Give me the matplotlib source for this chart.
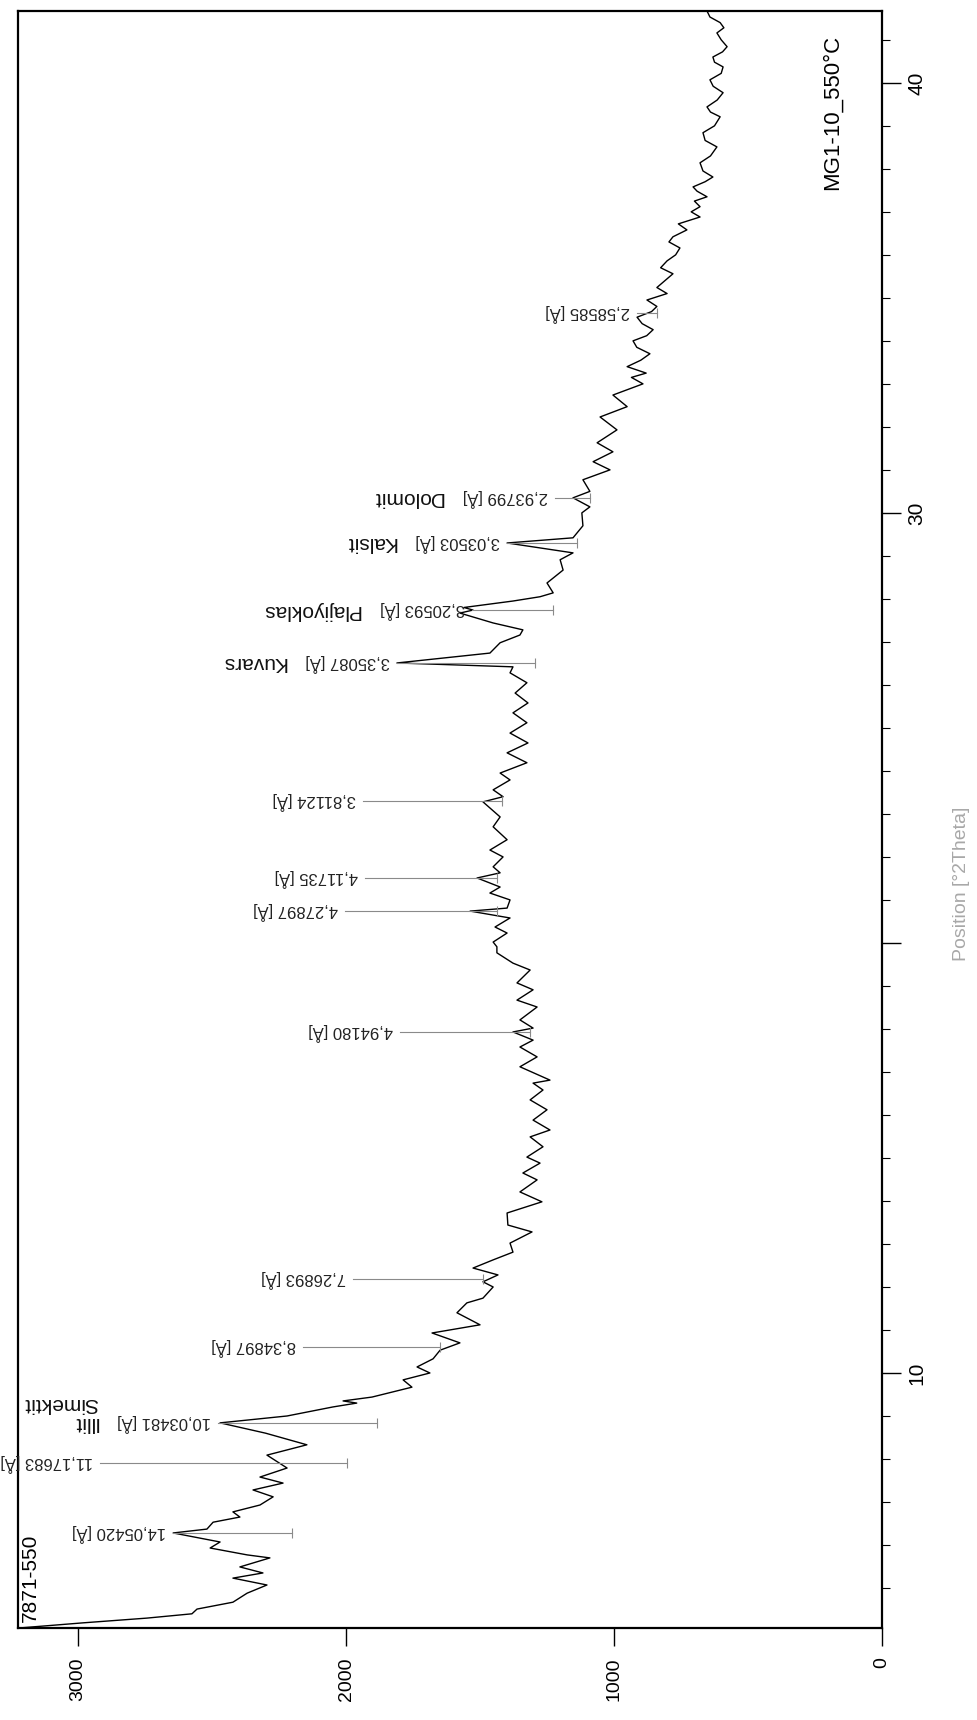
import matplotlib
matplotlib.use("Agg")
import matplotlib.pyplot as plt
from matplotlib.ticker import MultipleLocator

plt.rcParams['font.family'] = ['Liberation Sans', 'DejaVu Sans']

# scan: position [°2Theta] and counts
two_theta = [4.07, 4.19, 4.30, 4.40, 4.51, 4.67, 4.88, 5.07, 5.23, 5.35, 5.49, 5.70, 5.77, 5.93,
             6.07, 6.28, 6.37, 6.53, 6.65, 6.77, 6.93, 7.12, 7.28, 7.44, 7.58, 7.79, 7.91, 8.09,
             8.33, 8.60, 8.84, 9.00, 9.21, 9.30, 9.35, 9.44, 9.60, 9.67, 9.84, 10.00, 10.14, 10.33,
             10.53, 10.70, 10.93, 11.12, 11.40, 11.63, 11.74, 12.00, 12.12, 12.28, 12.44, 12.63,
             12.81, 13.02, 13.28, 13.44, 13.72, 13.98, 14.21, 14.49, 14.65, 14.88, 15.02, 15.26,
             15.49, 15.65, 15.88, 16.12, 16.35, 16.58, 16.74, 16.81, 17.12, 17.35, 17.58, 17.74,
             17.93, 18.02, 18.21, 18.51, 18.67, 18.91, 19.07, 19.37, 19.53, 19.77, 19.91, 20.02,
             20.23, 20.37, 20.58, 20.74, 20.81, 21.00, 21.16, 21.30, 21.51, 21.63, 21.77, 22.00,
             22.16, 22.40, 22.70, 22.93, 23.28, 23.40, 23.56, 23.79, 23.95, 24.19, 24.42, 24.65,
             24.88, 25.12, 25.35, 25.58, 25.81, 26.05, 26.28, 26.42, 26.51, 26.74, 26.98, 27.16,
             27.28, 27.44, 27.67, 27.74, 27.80, 27.95, 28.05, 28.14, 28.37, 28.67, 28.91, 29.07,
             29.30, 29.42, 29.70, 30.00, 30.14, 30.35, 30.50, 30.77, 31.00, 31.19, 31.42, 31.63,
             31.93, 32.23, 32.47, 32.74, 33.00, 33.15, 33.25, 33.40, 33.55, 33.70, 33.85, 34.00,
             34.12, 34.26, 34.40, 34.55, 34.68, 34.80, 34.95, 35.10, 35.24, 35.40, 35.56, 35.70,
             35.86, 36.00, 36.16, 36.30, 36.42, 36.58, 36.72, 36.88, 37.00, 37.12, 37.25, 37.35,
             37.48, 37.58, 37.70, 37.81, 37.95, 38.14, 38.30, 38.51, 38.66, 38.84, 39.00, 39.21,
             39.32, 39.44, 39.60, 39.77, 39.92, 40.07, 40.22, 40.37, 40.48, 40.60, 40.72, 40.84,
             41.00, 41.16, 41.28, 41.40, 41.53, 41.67]
counts = [3220, 2981, 2743, 2575, 2556, 2422, 2369, 2295, 2422, 2310, 2396, 2284, 2369, 2507,
          2470, 2645, 2519, 2496, 2396, 2422, 2321, 2272, 2347, 2235, 2321, 2220, 2250, 2295,
          2146, 2300, 2470, 2220, 2049, 1960, 2011, 1903, 1799, 1754, 1787, 1687, 1735, 1675,
          1649, 1575, 1679, 1500, 1586, 1549, 1489, 1451, 1489, 1433, 1526, 1451,
          1377, 1388, 1306, 1396, 1399, 1269, 1351, 1287, 1340, 1276, 1325, 1265,
          1313, 1239, 1302, 1250, 1313, 1265, 1302, 1239, 1351, 1287, 1351, 1302,
          1377, 1302, 1351, 1287, 1362, 1302, 1362, 1313, 1377, 1437, 1437, 1451,
          1399, 1444, 1388, 1537, 1399, 1388, 1463, 1425, 1511, 1425, 1451, 1414,
          1463, 1399, 1451, 1425, 1489, 1414, 1451, 1388, 1425, 1325, 1399, 1321,
          1388, 1325, 1377, 1321, 1369, 1325, 1388, 1377, 1810, 1463, 1425, 1351,
          1340, 1451, 1575, 1526, 1560, 1377, 1276, 1227, 1250, 1190, 1201, 1153,
          1399, 1153, 1116, 1120, 1090, 1153, 1090, 1116, 1015, 1078, 1004, 1063,
          989, 1052, 951, 1004, 892, 935, 880, 951, 900, 866, 915, 929,
          878, 854, 895, 914, 860, 840, 877, 802, 840, 810, 780, 826,
          802, 770, 754, 795, 780, 728, 760, 679, 712, 679, 700, 653,
          690, 705, 660, 631, 668, 679, 640, 616, 660, 668, 625, 604,
          640, 653, 615, 593, 630, 642, 600, 593, 625, 631, 595, 578,
          600, 616, 590, 604, 642, 653]

# identified peaks: label, position, top and foot of the marker line (counts)
peak_labels = ["14,05420 [Å]", "11,17683 [Å]", "10,03481 [Å]", "8,34897 [Å]", "7,26893 [Å]",
               "4,94180 [Å]", "4,27897 [Å]", "4,11735 [Å]", "3,81124 [Å]", "3,35087 [Å]",
               "3,20593 [Å]", "3,03503 [Å]", "2,93799 [Å]", "2,58585 [Å]"]
peak_pos = [6.28, 7.91, 8.84, 10.60, 12.19, 17.93, 20.74, 21.51, 23.30, 26.51, 27.74, 29.30,
            30.35, 34.65]
peak_top = [2645, 2918, 2478, 2160, 1974, 1799, 2004, 1929, 1937, 1810, 1530, 1399, 1220, 914]
peak_base = [2201, 1996, 1884, 1649, 1489, 1313, 1437, 1437, 1418, 1295, 1228, 1138, 1090, 840]

# phase names written next to some peaks
phase_names = {2: ["Illit", "Simektit"], 9: ["Kuvars"], 10: ["Plajiyoklas"],
               11: ["Kalsit"], 12: ["Dolomit"]}

fig = plt.figure(figsize=(9.77, 17.2), dpi=100)
ax = fig.add_axes([18 / 977, 92 / 1720, 864 / 977, 1617 / 1720])

ax.plot(counts, two_theta, color="black", lw=1.0)

for lab, p, top, base in zip(peak_labels, peak_pos, peak_top, peak_base):
    ax.plot([top, base], [p, p], color="#8a8a8a", lw=0.8)
    ax.plot([base], [p], marker="|", ms=7, color="#8a8a8a", mew=0.8)

for i, (lab, p, top) in enumerate(zip(peak_labels, peak_pos, peak_top)):
    t = ax.annotate(lab, xy=(top, p), xytext=(-5, 0), textcoords="offset points",
                    rotation=180, ha="right", va="center", fontsize=12, color="#222222")
    for j, name in enumerate(phase_names.get(i, [])):
        ax.annotate(name, xy=(0, 0.5), xycoords=t, xytext=(-14, 14 * j),
                    textcoords="offset points", rotation=180, ha="right", va="center",
                    fontsize=15, color="#111111")

ax.set_xlim(3224, 0)
ax.set_ylim(4.07, 41.67)

ax.set_xticks([0, 1000, 2000, 3000])
ax.tick_params(axis="x", direction="out", length=13, width=1, labelsize=14, pad=8,
               labelrotation=90)

ax.yaxis.tick_right()
ax.set_yticks([10, 20, 30, 40])
ax.set_yticklabels(["10", "", "30", "40"])
ax.yaxis.set_minor_locator(MultipleLocator(1))
ax.tick_params(axis="y", which="major", direction="out", length=14, width=1, labelsize=15,
               pad=4, labelrotation=90)
ax.tick_params(axis="y", which="minor", direction="out", length=6, width=0.8)
for lbl in ax.get_yticklabels():
    lbl.set_va("center")

ax.yaxis.set_label_position("right")
ax.set_ylabel("Position [°2Theta]", color="#a8a8a8", fontsize=14, rotation=90)
ax.yaxis.set_label_coords(1.082, 0.46)

for s in ax.spines.values():
    s.set_linewidth(1.6)

ax.text(0.003, 0.004, "7871-550", transform=ax.transAxes, rotation=90, ha="left",
        va="bottom", fontsize=15)
ax.text(0.955, 0.985, "MG1-10_550°C", transform=ax.transAxes, rotation=90, ha="right",
        va="top", fontsize=16)

fig.savefig("out.png", dpi=100)
